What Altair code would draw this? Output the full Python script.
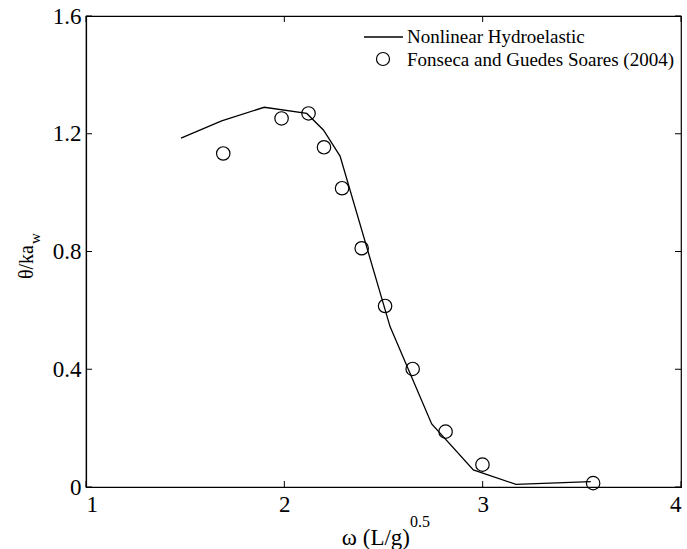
import altair as alt
import pandas as pd

# Nonlinear Hydroelastic (line)
line_x = [1.479, 1.684, 1.899, 2.113, 2.197, 2.281, 2.533, 2.743, 2.953, 3.168, 3.545]
line_y = [1.185, 1.244, 1.290, 1.269, 1.213, 1.124, 0.545, 0.214, 0.058, 0.009, 0.018]

# Fonseca and Guedes Soares (2004) (circles)
pt_x = [1.692, 1.986, 2.122, 2.200, 2.291, 2.390, 2.508, 2.647, 2.813, 2.999, 3.557]
pt_y = [1.133, 1.252, 1.269, 1.154, 1.015, 0.811, 0.615, 0.401, 0.188, 0.076, 0.013]

x_ticks = [1, 2, 3, 4]
y_ticks = [0, 0.4, 0.8, 1.2, 1.6]

W, H = 595, 471
FONT = "Liberation Serif, Times New Roman, serif"

line_df = pd.DataFrame({"x": line_x, "y": line_y})
pt_df = pd.DataFrame({"x": pt_x, "y": pt_y})
xt_df = pd.DataFrame({"v": x_ticks})
yt_df = pd.DataFrame({"v": y_ticks})

xs = alt.Scale(domain=[1, 4], nice=False, zero=False)
ys = alt.Scale(domain=[0, 1.6], nice=False, zero=False)

x_axis = alt.Axis(values=x_ticks, format="d", ticks=False, grid=False,
                  labelFont=FONT, labelFontSize=23, labelColor="black",
                  labelPadding=6, domainColor="black", domainWidth=1.2, title=None)
y_axis = alt.Axis(values=y_ticks, ticks=False, grid=False,
                  labelExpr="datum.value == 0 ? '0' : format(datum.value, '.1f')",
                  labelFont=FONT, labelFontSize=23, labelColor="black",
                  labelPadding=5, domainColor="black", domainWidth=1.2, title=None)

line = alt.Chart(line_df).mark_line(color="black", strokeWidth=1.3).encode(
    x=alt.X("x:Q", scale=xs, axis=x_axis),
    y=alt.Y("y:Q", scale=ys, axis=y_axis),
)

pts = alt.Chart(pt_df).mark_point(shape="circle", filled=False, color="black",
                                  size=180, strokeWidth=1.2, opacity=1).encode(
    x=alt.X("x:Q", scale=xs),
    y=alt.Y("y:Q", scale=ys),
)

tick_len = 6
xt_bottom = alt.Chart(xt_df).mark_rule(color="black", strokeWidth=1).encode(
    x=alt.X("v:Q", scale=xs), y=alt.value(H), y2=alt.value(H - tick_len))
xt_top = alt.Chart(xt_df).mark_rule(color="black", strokeWidth=1).encode(
    x=alt.X("v:Q", scale=xs), y=alt.value(0), y2=alt.value(tick_len))
yt_left = alt.Chart(yt_df).mark_rule(color="black", strokeWidth=1).encode(
    y=alt.Y("v:Q", scale=ys), x=alt.value(0), x2=alt.value(tick_len))
yt_right = alt.Chart(yt_df).mark_rule(color="black", strokeWidth=1).encode(
    y=alt.Y("v:Q", scale=ys), x=alt.value(W), x2=alt.value(W - tick_len))

# Legend (top right)
leg_line = alt.Chart(pd.DataFrame({"a": [0]})).mark_rule(color="black", strokeWidth=1.3).encode(
    x=alt.value(278), x2=alt.value(317), y=alt.value(21))
leg_pt = alt.Chart(pd.DataFrame({"a": [0]})).mark_point(
    shape="circle", filled=False, color="black", size=170, strokeWidth=1.2, opacity=1).encode(
    x=alt.value(297), y=alt.value(43))
leg_t1 = alt.Chart(pd.DataFrame({"t": ["Nonlinear Hydroelastic"]})).mark_text(
    align="left", baseline="middle", font=FONT, fontSize=19, color="black").encode(
    x=alt.value(321), y=alt.value(21), text="t:N")
leg_t2 = alt.Chart(pd.DataFrame({"t": ["Fonseca and Guedes Soares (2004)"]})).mark_text(
    align="left", baseline="middle", font=FONT, fontSize=19, color="black").encode(
    x=alt.value(321), y=alt.value(44), text="t:N")

# Axis titles
xt_main = alt.Chart(pd.DataFrame({"t": ["ω (L/g)"]})).mark_text(
    align="right", baseline="alphabetic", font=FONT, fontSize=23, color="black").encode(
    x=alt.value(324), y=alt.value(58 + H), text="t:N")
xt_sup = alt.Chart(pd.DataFrame({"t": ["0.5"]})).mark_text(
    align="left", baseline="alphabetic", font=FONT, fontSize=16, color="black").encode(
    x=alt.value(324), y=alt.value(40 + H), text="t:N")
yt_main = alt.Chart(pd.DataFrame({"t": ["θ/ka"]})).mark_text(
    align="right", baseline="alphabetic", font=FONT, fontSize=20, color="black", angle=270).encode(
    x=alt.value(-53), y=alt.value(229), text="t:N")
yt_sub = alt.Chart(pd.DataFrame({"t": ["w"]})).mark_text(
    align="left", baseline="alphabetic", font=FONT, fontSize=15, color="black", angle=270).encode(
    x=alt.value(-46), y=alt.value(228), text="t:N")

chart = alt.layer(
    line, pts, xt_bottom, xt_top, yt_left, yt_right,
    leg_line, leg_pt, leg_t1, leg_t2, xt_main, xt_sup, yt_main, yt_sub
).properties(
    width=W, height=H,
    autosize=alt.AutoSizeParams(type="none"),
    padding={"left": 86, "top": 16, "right": 6, "bottom": 62},
    background="white",
).configure_view(stroke="black", strokeWidth=1.2)

chart.save("out.html", embed_options={"renderer": "svg", "actions": False})
